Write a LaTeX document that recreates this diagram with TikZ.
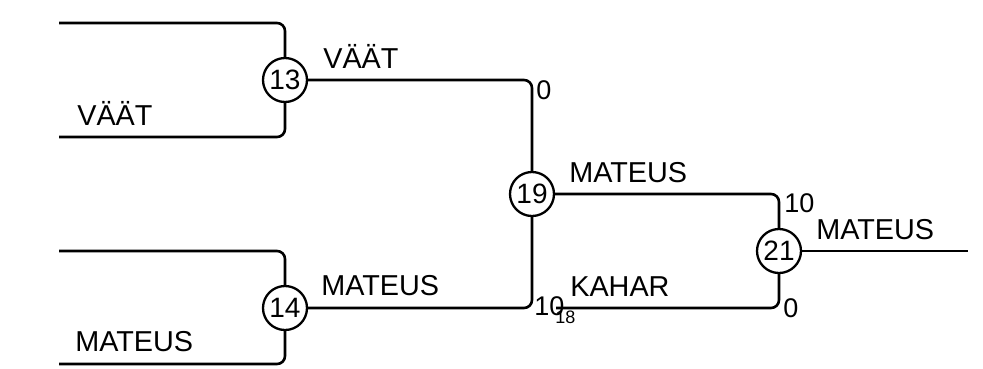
\documentclass[tikz,border=0pt]{standalone}
\usepackage{fontspec}
\setmainfont{Liberation Sans}
\begin{document}
\begin{tikzpicture}[x=1pt,y=-1pt,line width=2.6pt,
  game/.style={circle,draw,fill=white,minimum size=44pt,inner sep=0pt,line width=2.3pt,font=\fontsize{28}{28}\selectfont},
  team/.style={anchor=base west,inner sep=0pt,font=\fontsize{28.8}{28}\selectfont},
  score/.style={anchor=base west,inner sep=0pt,font=\fontsize{27}{27}\selectfont},
  link/.style={rounded corners=8pt}]
\useasboundingbox (0,0) rectangle (983,368);
% games
\node[game] (m13) at (285,80) {13};
\node[game] (m14) at (285,308) {14};
\node[game] (m19) at (532,194) {19};
\node[game] (m21) at (779,251) {21};
% free ends
\coordinate (t13) at (59,23);
\coordinate (b13) at (59,137);
\coordinate (t14) at (59,251);
\coordinate (b14) at (59,364);
\coordinate (k18) at (556,308);
\coordinate (out) at (968,251);
\draw[link] (t13) -| (m13);
\draw[link] (b13) -| (m13);
\draw[link] (t14) -| (m14);
\draw[link] (b14) -| (m14);
\draw[link] (m13) -| (m19);
\draw[link] (m14) -| (m19);
\draw[link] (m19) -| (m21);
\draw[link] (k18) -| (m21);
\draw (m21) -- (out);
% names and scores
\node[team] (l13a) at (322,68) {VÄÄT};
\node[team] (l13b) at (76,125) {VÄÄT};
\node[score] (s13) at (535,99) {0};
\node[team] (l14a) at (320,295) {MATEUS};
\node[team] (l14b) at (74,351) {MATEUS};
\node[score] (s14) at (533,315) {10};
\node[anchor=base west,inner sep=0pt,font=\fontsize{18}{18}\selectfont] (n18) at (554,323) {18};
\node[team] (l19) at (568,182) {MATEUS};
\node[team] (l18) at (569,296) {KAHAR};
\node[score] (s19) at (783,212) {10};
\node[score] (s18) at (782,317) {0};
\node[team] (l21) at (815,239) {MATEUS};
\end{tikzpicture}
\end{document}
